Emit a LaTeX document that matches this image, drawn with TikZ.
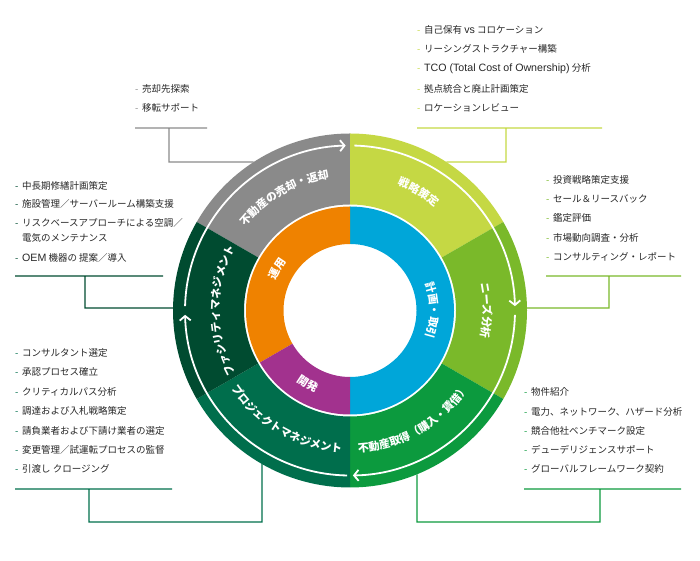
\documentclass[tikz,border=0pt]{standalone}
\usepackage{fontspec}
\setmainfont{Noto Sans CJK JP}
\newfontfamily\latf[Scale=1.12]{Liberation Sans}
\usetikzlibrary{decorations.text,arrows.meta,calc}
\definecolor{cgray}{HTML}{8A8A8A}
\definecolor{clime}{HTML}{C5D844}
\definecolor{clgreen}{HTML}{7AB92A}
\definecolor{cgreen}{HTML}{0C9A3E}
\definecolor{cteal}{HTML}{006E4C}
\definecolor{cdark}{HTML}{004B30}
\definecolor{cblue}{HTML}{00A6D9}
\definecolor{corange}{HTML}{EF8200}
\definecolor{cpurple}{HTML}{A2328E}
\definecolor{ctext}{HTML}{262626}
\newcommand\lblfont{\fontsize{11}{11}\selectfont\bfseries\color{white}}
\newcommand\ringseg[5]{% color, a1, a2, r1, r2
  \fill[#1] ($(c)+(#2:#5)$) arc[start angle=#2, end angle=#3, radius=#5]
    -- ($(c)+(#3:#4)$) arc[start angle=#3, end angle=#2, radius=#4] -- cycle;}
\newcommand\arclabel[4]{% start angle, end angle, radius, text
  \path[decorate, decoration={text along path, text align=center, text={|\lblfont|#4}}]
    ($(c)+(#1:#3)$) arc[start angle=#1, end angle=#2, radius=#3];}
\newcommand\dsh[1]{\makebox[7pt][l]{\textcolor{#1}{-}}}
\tikzset{
  item/.style={anchor=west, inner sep=0pt, text=ctext, font=\fontsize{9.5}{11}\selectfont},
  conn/.style={line width=1.2pt},
  flow/.style={white, line width=1.8pt, -{Straight Barb[length=4.5pt,width=11pt,line width=1.8pt]}}
}
\begin{document}
\begin{tikzpicture}[x=1pt,y=1pt]
\useasboundingbox (0,0) rectangle (700,561);
\coordinate (c) at (350,250.5);

% ---- connector coordinates
\coordinate (tlA) at (135,433); \coordinate (tlB) at (207,433);
\coordinate (tlS) at (169,433); \coordinate (tlK) at (169,399);
\coordinate (tlC) at ($(c)+(122.97:177)$);
\coordinate (trA) at (417,433); \coordinate (trB) at (602,433);
\coordinate (trS) at (506,433); \coordinate (trK) at (506,399);
\coordinate (trC) at ($(c)+(57.03:177)$);
\coordinate (lA) at (15,285); \coordinate (lB) at (163,285);
\coordinate (lS) at (85,285); \coordinate (lK) at (85,253);
\coordinate (lC) at ($(c)+(179.2:177)$);
\coordinate (rA) at (546,285); \coordinate (rB) at (681,285);
\coordinate (rS) at (609,285); \coordinate (rK) at (609,253);
\coordinate (rC) at ($(c)+(0.8:177)$);
\coordinate (blA) at (15,72); \coordinate (blB) at (172,72);
\coordinate (blS) at (89,72); \coordinate (blK) at (89,39);
\coordinate (blM) at (262,39);
\coordinate (blC) at ($(c)+(240.19:177)$);
\coordinate (brA) at (524,72); \coordinate (brB) at (681,72);
\coordinate (brS) at (600,72); \coordinate (brK) at (600,39);
\coordinate (brM) at (417,39);
\coordinate (brC) at ($(c)+(-67.76:177)$);

\draw[conn, cgray] (tlA) -- (tlB) (tlS) -- (tlK) -- (tlC);
\draw[conn, clime] (trA) -- (trB) (trS) -- (trK) -- (trC);
\draw[conn, cdark] (lA) -- (lB) (lS) -- (lK) -- (lC);
\draw[conn, clgreen] (rA) -- (rB) (rS) -- (rK) -- (rC);
\draw[conn, cteal] (blA) -- (blB) (blS) -- (blK) -- (blM) -- (blC);
\draw[conn, cgreen] (brA) -- (brB) (brS) -- (brK) -- (brM) -- (brC);

% ---- outer ring
\ringseg{cgray}{90}{150}{106}{177}
\ringseg{clime}{30}{90}{106}{177}
\ringseg{clgreen}{-30}{30}{106}{177}
\ringseg{cgreen}{-90}{-30}{106}{177}
\ringseg{cteal}{-150}{-90}{106}{177}
\ringseg{cdark}{150}{210}{106}{177}
% ---- inner ring
\ringseg{cblue}{-90}{90}{66.5}{104}
\ringseg{corange}{90}{210}{66.5}{104}
\ringseg{cpurple}{210}{270}{66.5}{104}

% ---- flow arcs
\draw[flow] ($(c)+(178.5:165)$) arc[start angle=178.5, end angle=91.5, radius=165];
\draw[flow] ($(c)+(88.5:165)$) arc[start angle=88.5, end angle=1.5, radius=165];
\draw[flow] ($(c)+(-1.5:165)$) arc[start angle=-1.5, end angle=-89, radius=165];
\draw[flow] ($(c)+(-91:165)$) arc[start angle=-91, end angle=-178.5, radius=165];

% ---- ring labels
\arclabel{175}{65}{134}{不動産の売却・返却}
\arclabel{110}{10}{134}{戦略策定}
\arclabel{50}{-50}{133}{ニーズ分析}
\arclabel{-125}{5}{142}{不動産取得（購入・賃借）}
\arclabel{-185}{-55}{142}{プロジェクトマネジメント}
\arclabel{245}{115}{131}{ファシリティマネジメント}
\arclabel{50}{-50}{80}{計画・取引}
\arclabel{200}{100}{80}{運用}
\arclabel{190}{290}{88.5}{開発}

% ---- lists
\foreach \y/\t [count=\i] in {472/売却先探索, 453/移転サポート}
  \node[item] (tl\i) at (135,\y) {\dsh{cgray}\t};
\foreach \y/\t [count=\i] in {531/自己保有 {\latf vs} コロケーション, 512/リーシングストラクチャー構築,
   492/{\latf TCO (Total Cost of Ownership)} 分析, 472/拠点統合と廃止計画策定, 453/ロケーションレビュー}
  \node[item] (tr\i) at (417,\y) {\dsh{clime}\t};
\foreach \y/\t [count=\i] in {375/中長期修繕計画策定, 357/施設管理／サーバールーム構築支援,
   338/リスクベースアプローチによる空調／, 303/{\latf OEM} 機器の 提案／導入}
  \node[item] (l\i) at (15,\y) {\dsh{cdark}\t};
\node[item] (l3b) at (22,323) {電気のメンテナンス};
\foreach \y/\t [count=\i] in {381/投資戦略策定支援, 362/セール＆リースバック, 343/鑑定評価,
   323/市場動向調査・分析, 304/コンサルティング・レポート}
  \node[item] (r\i) at (546,\y) {\dsh{clgreen}\t};
\foreach \y/\t [count=\i] in {208/コンサルタント選定, 189/承認プロセス確立, 169/クリティカルパス分析,
   150/調達および入札戦略策定, 130/請負業者および下請け業者の選定, 111/変更管理／試運転プロセスの監督,
   92/引渡し クロージング}
  \node[item] (bl\i) at (15,\y) {\dsh{cteal}\t};
\foreach \y/\t [count=\i] in {169/物件紹介, 149/電力、ネットワーク、ハザード分析, 130/競合他社ベンチマーク設定,
   111/デューデリジェンスサポート, 92/グローバルフレームワーク契約}
  \node[item] (br\i) at (524,\y) {\dsh{cgreen}\t};
\end{tikzpicture}
\end{document}
